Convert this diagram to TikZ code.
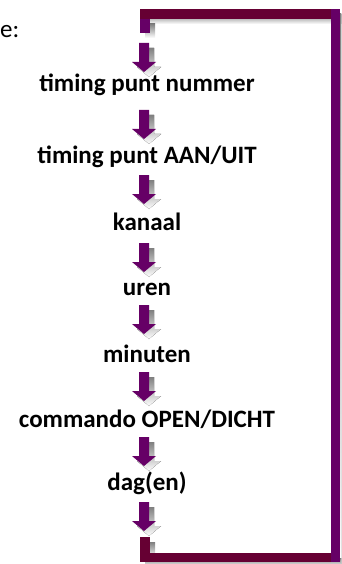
\documentclass[tikz,border=0pt]{standalone}
\usepackage{fontspec}
\setmainfont{Carlito}
\definecolor{maroonbar}{HTML}{660033}
\definecolor{plumbar}{HTML}{660066}
\definecolor{shade}{HTML}{878787}
\begin{document}
\begin{tikzpicture}[x=1pt,y=-1pt,
  lbl/.style={font=\bfseries\fontsize{25}{30}\selectfont, anchor=base, inner sep=0pt},
  plain/.style={font=\fontsize{25}{30}\selectfont, anchor=base west, inner sep=0pt},
  darrow/.pic={
    \fill[shade,shift={(5,5)}] (-5,0) -- (5,0) -- (5,19) -- (12,19) -- (0,29) -- (-12,19) -- (-5,19) -- cycle;
    \fill[plumbar] (-5,0) -- (5,0) -- (5,19) -- (12,19) -- (0,29) -- (-12,19) -- (-5,19) -- cycle;
  }]
\useasboundingbox (0,0) rectangle (341,564);
\clip (0,0) rectangle (341,564);
% frame shadows
\fill[shade] (145,14) rectangle (345,24);
\fill[shade] (336,14) rectangle (345,567);
\fill[shade] (145,24) rectangle (155,38);
\fill[shade] (145,542) rectangle (155,558);
\fill[shade] (145,558) rectangle (345,567);
% frame
\fill[maroonbar] (140,9) rectangle (331,19);
\fill[plumbar] (331,9) rectangle (340,562);
\fill[plumbar] (140,19) rectangle (150,33);
\fill[maroonbar] (140,537) rectangle (150,553);
\fill[maroonbar] (140,553) rectangle (331,562);
% arrows
\foreach \t in {43,110,175,243,305,372,437,502}
  \pic at (144,\t) {darrow};
% texts
\node[plain] (e) at (0,38) {e:};
\node[lbl] (t1) at (147,92) {timing punt nummer};
\node[lbl] (t2) at (147,164) {timing punt AAN/UIT};
\node[lbl] (t3) at (147,230) {kanaal};
\node[lbl] (t4) at (147,295) {uren};
\node[lbl] (t5) at (147,362) {minuten};
\node[lbl] (t6) at (147,427) {commando OPEN/DICHT};
\node[lbl] (t7) at (147,490) {dag(en)};
\end{tikzpicture}
\end{document}
